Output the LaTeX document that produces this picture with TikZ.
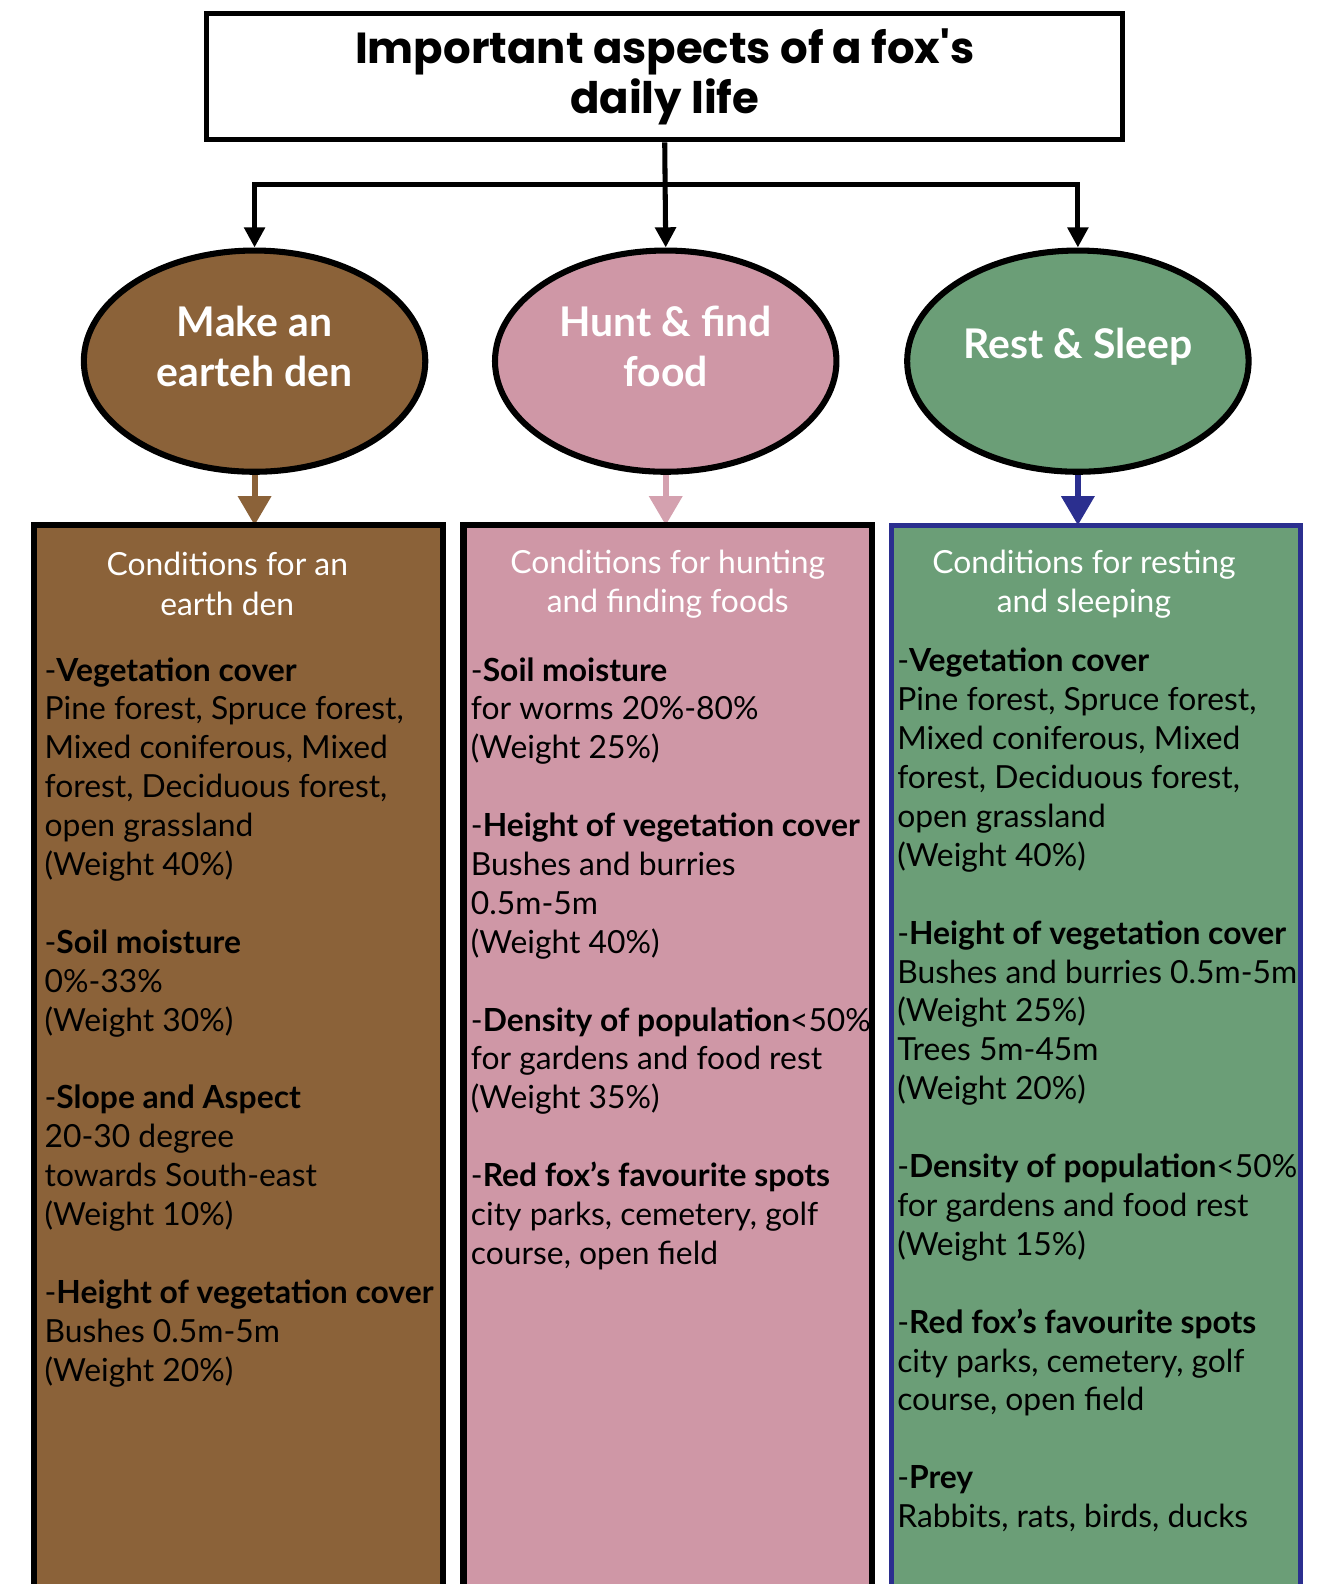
\documentclass[tikz,border=0pt]{standalone}
\usepackage{fontspec}
\setmainfont{Lato}
\newfontfamily\titlefont{Poppins}
\usetikzlibrary{shapes.geometric,arrows.meta}
\definecolor{brownF}{HTML}{8B6239}
\definecolor{pinkF}{HTML}{CF97A6}
\definecolor{greenF}{HTML}{6B9E77}
\definecolor{blueB}{HTML}{2B2F8F}
\tikzset{
  titlebox/.style={draw=black,line width=5pt,fill=white,minimum width=907pt,minimum height=125pt,inner sep=0pt,align=center,
    font=\titlefont\bfseries\fontsize{43}{50}\selectfont},
  oval/.style={ellipse,draw=black,line width=6pt,minimum width=338pt,minimum height=219pt,inner sep=0pt},
  ovaltext/.style={text=white,align=center,font=\bfseries\fontsize{40.5}{49}\selectfont,inner sep=0pt},
  conn/.style={line width=5pt,-{Triangle[length=20pt,width=20pt]}},
  carrow/.style={line width=6pt,-{Triangle[length=29pt,width=32pt]}},
  colbox/.style={minimum width=404pt,minimum height=1080pt,anchor=north,inner sep=0pt},
  boxborder/.style={line width=6pt},
  head/.style={text=white,align=center,font=\fontsize{31.5}{39}\selectfont,inner sep=0pt},
  list/.style={anchor=north west,align=left,inner sep=0pt,font=\fontsize{31.5}{38.5}\selectfont},
}
\begin{document}
\begin{tikzpicture}[x=1pt,y=-1pt]
\useasboundingbox (0,0) rectangle (1313,1568);
\clip (0,0) rectangle (1313,1568);

\node[titlebox] (title) at (658,76) {Important aspects of a fox's\\daily life};

\node[oval,fill=brownF] (e1) at (252,357.5) {};
\node[oval,fill=pinkF]  (e2) at (659,357.5) {};
\node[oval,fill=greenF] (e3) at (1067,357.5) {};
\node[ovaltext] (t1) at (252,343) {Make an\\earteh den};
\node[ovaltext] (t2) at (659,343) {Hunt \& find\\food};
\node[ovaltext] (t3) at (1067,343) {Rest \& Sleep};

\coordinate (j) at (659,183);
\draw[conn] (title.south) -- (e2.north);
\draw[conn] (j) -| (e1.north);
\draw[conn] (j) -| (e3.north);

\node[colbox,fill=brownF] (b1) at (236,520) {};
\node[colbox,fill=pinkF]  (b2) at (661,520) {};
\node[colbox,fill=greenF] (b3) at (1085,520) {};

\draw[carrow,brownF] (e1.south) -- (e1.south |- b1.north);
\draw[carrow,pinkF!90!white] (e2.south) -- (e2.south |- b2.north);
\draw[carrow,blueB] (e3.south) -- (e3.south |- b3.north);

\node[head] (h1) at (225,578) {Conditions for an\\earth den};
\node[head] (h2) at (661,578) {Conditions for hunting\\and finding foods};
\node[head] (h3) at (1073,578) {Conditions for resting\\and sleeping};

\node[list] (l1) at (44,647) {\strut-\textbf{Vegetation cover}\\
Pine forest, Spruce forest,\\
Mixed coniferous, Mixed\\
forest, Deciduous forest,\\
open grassland\\
(Weight 40\%)\\[38.5pt]
-\textbf{Soil moisture}\\
0\%-33\%\\
(Weight 30\%)\\[38.5pt]
-\textbf{Slope and Aspect}\\
20-30 degree\\
towards South-east\\
(Weight 10\%)\\[38.5pt]
-\textbf{Height of vegetation cover}\\
Bushes 0.5m-5m\\
(Weight 20\%)};

\node[list] (l2) at (466,647) {\strut-\textbf{Soil moisture}\\
for worms 20\%-80\%\\
(Weight 25\%)\\[38.5pt]
-\textbf{Height of vegetation cover}\\
Bushes and burries\\
0.5m-5m\\
(Weight 40\%)\\[38.5pt]
-\textbf{Density of population}<50\%\\
for gardens and food rest\\
(Weight 35\%)\\[38.5pt]
-\textbf{Red fox’s favourite spots}\\
city parks, cemetery, golf\\
course, open field};

\node[list] (l3) at (888,638) {\strut-\textbf{Vegetation cover}\\
Pine forest, Spruce forest,\\
Mixed coniferous, Mixed\\
forest, Deciduous forest,\\
open grassland\\
(Weight 40\%)\\[38.5pt]
-\textbf{Height of vegetation cover}\\
Bushes and burries 0.5m-5m\\
(Weight 25\%)\\
Trees 5m-45m\\
(Weight 20\%)\\[38.5pt]
-\textbf{Density of population}<50\%\\
for gardens and food rest\\
(Weight 15\%)\\[38.5pt]
-\textbf{Red fox’s favourite spots}\\
city parks, cemetery, golf\\
course, open field\\[38.5pt]
-\textbf{Prey}\\
Rabbits, rats, birds, ducks};

\draw[boxborder,black] (b1.north west) rectangle (b1.south east);
\draw[boxborder,black] (b2.north west) rectangle (b2.south east);
\draw[line width=5pt,blueB] (b3.north west) rectangle (b3.south east);
\end{tikzpicture}
\end{document}
